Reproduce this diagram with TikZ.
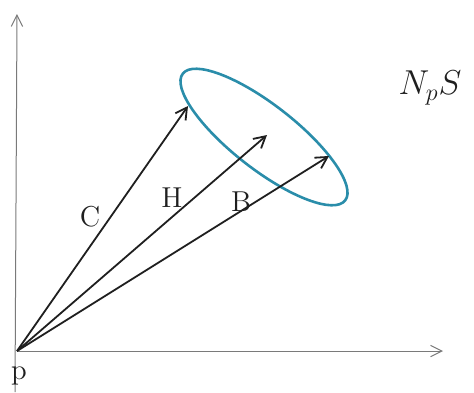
\documentclass[tikz,border=0pt]{standalone}
\usepackage{amsmath,amssymb}
\usepackage{tikz}
\usetikzlibrary{arrows.meta,positioning,calc}
\definecolor{ringblue}{HTML}{2A8DAA}
\definecolor{axisgray}{HTML}{7A7A7A}
\definecolor{darktext}{HTML}{1F1F1F}
\tikzset{
  axisline/.style={-{Straight Barb[length=2mm,width=2mm]},line width=0.5pt,axisgray},
  vecarrow/.style={-{Straight Barb[length=2mm,width=2.2mm]},line width=0.9pt,darktext},
  ring/.style={line width=1.3pt,ringblue},
  veclabel/.style={font=\Large,text=darktext,inner sep=1pt}
}
\begin{document}
\begin{tikzpicture}[x=0.5pt,y=-0.5pt]
\useasboundingbox (0,0) rectangle (474,392);
% origin and axes
\coordinate (p) at (17,351);
\coordinate (xend) at (443,351);
\coordinate (ybot) at (15,392);
\coordinate (yend) at (17,14);
\draw[axisline] (p) -- (xend);
\draw[axisline] (ybot) -- (yend);
\node[veclabel] (plabel) at (19,376) {p};

% the ellipse
\coordinate (ctr) at (264,137);
\draw[ring] (ctr) ellipse [x radius=103, y radius=32, rotate=-38];

% tips of the three vectors
\coordinate (ctip) at (188,106);
\coordinate (htip) at (267,135);
\coordinate (btip) at (329,156);
\draw[vecarrow] (p) -- (ctip);
\draw[vecarrow] (p) -- (htip);
\draw[vecarrow] (p) -- (btip);

\node[veclabel] (clabel) at (90,217) {C};
\node[veclabel] (hlabel) at (172,198) {H};
\node[veclabel] (blabel) at (241,202) {B};
\node[veclabel,font=\LARGE] (nps) at (430,88) {$N_pS$};
\end{tikzpicture}
\end{document}
